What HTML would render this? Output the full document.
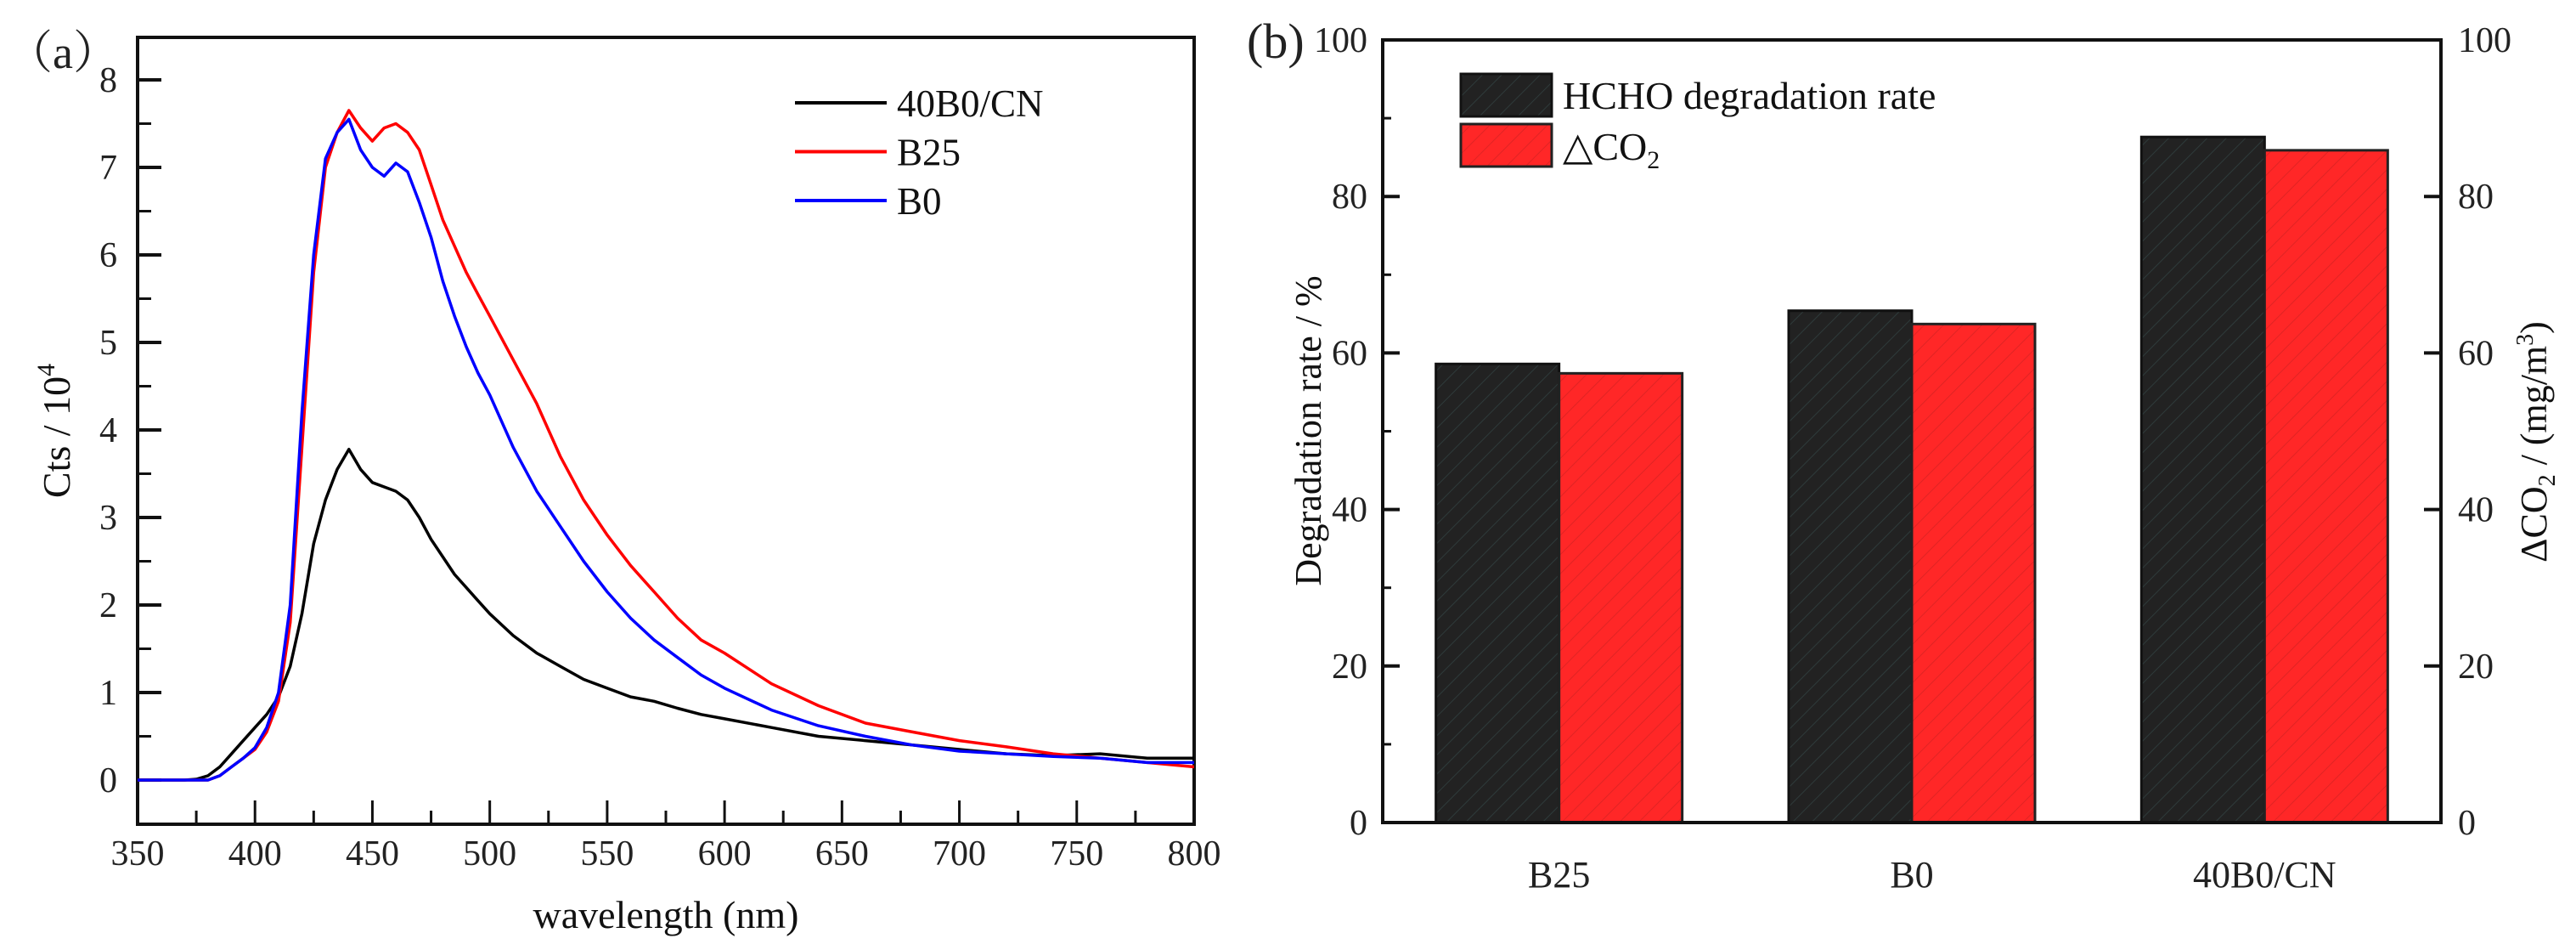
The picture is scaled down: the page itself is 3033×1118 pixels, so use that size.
<!DOCTYPE html>
<html><head><meta charset="utf-8"><style>
html,body{margin:0;padding:0;background:#fff;}
svg{display:block;font-family:"Liberation Serif","DejaVu Serif",serif;}
</style></head><body>
<svg id="fig" width="3033" height="1118" viewBox="0 0 3033 1118" xmlns="http://www.w3.org/2000/svg">
<defs>
<pattern id="hatchK" patternUnits="userSpaceOnUse" width="16" height="16" patternTransform="rotate(45)"><rect width="16" height="16" fill="#222"/><line x1="0" y1="0" x2="0" y2="16" stroke="#2e3a3a" stroke-width="2"/></pattern>
<pattern id="hatchR" patternUnits="userSpaceOnUse" width="16" height="16" patternTransform="rotate(45)"><rect width="16" height="16" fill="#ff2727"/><line x1="0" y1="0" x2="0" y2="16" stroke="#e02424" stroke-width="2"/></pattern>
</defs>
<g id="panelA"></g>
<g id="panelB"></g>
</svg>
<script>
// ---------- Panel (a) data ----------
const wl = [350,355,360,365,370,375,380,385,390,395,400,405,410,415,420,425,430,435,440,445,450,455,460,465,470,475,480,485,490,495,500,510,520,530,540,550,560,570,580,590,600,620,640,660,680,700,720,740,760,780,800];
const cnVals = [0,0,0,0,0,0.01,0.05,0.15,0.3,0.45,0.6,0.75,0.95,1.3,1.9,2.7,3.2,3.55,3.78,3.55,3.4,3.35,3.3,3.2,3.0,2.75,2.55,2.35,2.2,2.05,1.9,1.65,1.45,1.3,1.15,1.05,0.95,0.9,0.82,0.75,0.7,0.6,0.5,0.45,0.4,0.35,0.3,0.28,0.3,0.25,0.25];
const b25Vals = [0,0,0,0,0,0,0,0.05,0.15,0.25,0.35,0.55,0.9,1.8,3.8,5.8,7.0,7.4,7.65,7.45,7.3,7.45,7.5,7.4,7.2,6.8,6.4,6.1,5.8,5.55,5.3,4.8,4.3,3.7,3.2,2.8,2.45,2.15,1.85,1.6,1.45,1.1,0.85,0.65,0.55,0.45,0.38,0.3,0.25,0.2,0.15];
const b0Vals = [0,0,0,0,0,0,0,0.05,0.15,0.25,0.37,0.6,1.0,2.0,4.2,6.0,7.1,7.4,7.55,7.2,7.0,6.9,7.05,6.95,6.6,6.2,5.7,5.3,4.95,4.65,4.4,3.8,3.3,2.9,2.5,2.15,1.85,1.6,1.4,1.2,1.05,0.8,0.62,0.5,0.4,0.33,0.3,0.27,0.25,0.2,0.2];
const xTicksA = [350,400,450,500,550,600,650,700,750,800];
const yTicksA = [0,1,2,3,4,5,6,7,8];
const seriesNames = ["40B0/CN","B25","B0"];
const seriesColors = ["#000","#ff0000","#0000ff"];

// ---------- Panel (b) data ----------
const categories = ["B25","B0","40B0/CN"];
const hchoVals = [58.6,65.4,87.6];
const co2Vals = [57.4,63.7,85.9];
const yTicksB = [0,20,40,60,80,100];

const NS="http://www.w3.org/2000/svg";
function mk(parent,tag,attrs,text){const e=document.createElementNS(NS,tag);for(const k in attrs)e.setAttribute(k,attrs[k]);if(text!==undefined)e.textContent=text;parent.appendChild(e);return e;}

// ===== Panel A =====
const A=document.getElementById('panelA');
const aL=162,aR=1406,aT=44,aB=970;
const ax=v=>aL+(v-350)/(800-350)*(aR-aL);
const ay=v=>918-v*103;
let e;
e=mk(A,'rect',{x:aL,y:aT,width:aR-aL,height:aB-aT,fill:'none',stroke:'#111','stroke-width':4});


for(let v=375;v<800;v+=50){e=mk(A,'line',{x1:ax(v),x2:ax(v),y1:aB,y2:aB-16,stroke:'#111','stroke-width':3});

}
xTicksA.forEach(v=>{
 e=mk(A,'line',{x1:ax(v),x2:ax(v),y1:aB,y2:aB-28,stroke:'#111','stroke-width':3});
 
 
 e=mk(A,'text',{x:ax(v),y:1018,'font-size':42,'text-anchor':'middle',fill:'#222'},String(v));
 
 
});
yTicksA.forEach(v=>{
 e=mk(A,'line',{x1:aL,x2:aL+28,y1:ay(v),y2:ay(v),stroke:'#111','stroke-width':4});
 
 
 e=mk(A,'text',{x:aL-24,y:ay(v)+14,'font-size':42,'text-anchor':'end',fill:'#222'},String(v));
 
 
 if(v<8){e=mk(A,'line',{x1:aL,x2:aL+16,y1:ay(v+0.5),y2:ay(v+0.5),stroke:'#111','stroke-width':3});
 
 }
});
[cnVals,b25Vals,b0Vals].forEach((vals,i)=>{
 const d=vals.map((v,j)=>(j?'L':'M')+ax(wl[j]).toFixed(1)+','+ay(v).toFixed(1)).join(' ');
 e=mk(A,'path',{d:d,fill:'none',stroke:seriesColors[i],'stroke-width':3.5,'stroke-linejoin':'round'});
 
 
});
// order: draw so blue on top like reference
seriesNames.forEach((n,i)=>{
 const y=121+i*57.5;
 e=mk(A,'line',{x1:936,x2:1044,y1:y,y2:y,stroke:seriesColors[i],'stroke-width':4});
 
 
 e=mk(A,'text',{x:1056,y:y+16,'font-size':45,fill:'#111'},n);
 
 
});
e=mk(A,'text',{x:784,y:1092,'font-size':46,'text-anchor':'middle',fill:'#111'},'wavelength (nm)');


e=mk(A,'text',{transform:'translate(82,507) rotate(-90)','font-size':46,'text-anchor':'middle',fill:'#111'});


e.innerHTML='Cts / 10<tspan dy="-18" font-size="30">4</tspan>';
e=mk(A,'text',{x:8,y:80,'font-size':54,fill:'#222',style:'font-family:"Liberation Serif","Noto Serif CJK SC",serif'},'（a）');



// ===== Panel B =====
const B=document.getElementById('panelB');
const bL=1628,bR=2874,bT=47,bB=968;
const by=v=>bB-v*(bB-bT)/100;
const bw=145;
const cx=i=>bL+(i+0.5)*(bR-bL)/categories.length;
categories.forEach((c,i)=>{
 e=mk(B,'rect',{x:cx(i)-bw,y:by(hchoVals[i]),width:bw,height:bB-by(hchoVals[i]),fill:'url(#hatchK)',stroke:'#111','stroke-width':3});
 
 
 e=mk(B,'rect',{x:cx(i),y:by(co2Vals[i]),width:bw,height:bB-by(co2Vals[i]),fill:'url(#hatchR)',stroke:'#222','stroke-width':3});
 
 
 e=mk(B,'text',{x:cx(i),y:1044,'font-size':44,'text-anchor':'middle',fill:'#222'},c);
 
 
});
e=mk(B,'rect',{x:bL,y:bT,width:bR-bL,height:bB-bT,fill:'none',stroke:'#111','stroke-width':4});


yTicksB.forEach(v=>{
 e=mk(B,'line',{x1:bL,x2:bL+20,y1:by(v),y2:by(v),stroke:'#111','stroke-width':4});
 
 
 e=mk(B,'line',{x1:bR,x2:bR-20,y1:by(v),y2:by(v),stroke:'#111','stroke-width':4});
 
 
 e=mk(B,'text',{x:bL-18,y:by(v)+14,'font-size':42,'text-anchor':'end',fill:'#222'},String(v));
 
 
 e=mk(B,'text',{x:bR+20,y:by(v)+14,'font-size':42,'text-anchor':'start',fill:'#222'},String(v));
 
 
 if(v<100){e=mk(B,'line',{x1:bL,x2:bL+10,y1:by(v+10),y2:by(v+10),stroke:'#111','stroke-width':3});
 
 }
});
e=mk(B,'rect',{x:1720,y:87,width:107,height:50,fill:'url(#hatchK)',stroke:'#111','stroke-width':3});


e=mk(B,'rect',{x:1720,y:146,width:107,height:50,fill:'url(#hatchR)',stroke:'#222','stroke-width':3});


e=mk(B,'text',{x:1840,y:128,'font-size':46,fill:'#111'},'HCHO degradation rate');


e=mk(B,'text',{x:1840,y:188,'font-size':46,fill:'#111'});


e.innerHTML='△CO<tspan dy="10" font-size="30">2</tspan>';
e=mk(B,'text',{transform:'translate(1555,507) rotate(-90)','font-size':44,'text-anchor':'middle',fill:'#111'},'Degradation rate / %');


e=mk(B,'text',{transform:'translate(2998,520) rotate(-90)','font-size':44,'text-anchor':'middle',fill:'#111'});


e.innerHTML='ΔCO<tspan dy="10" font-size="28">2</tspan><tspan dy="-10"> / (mg/m</tspan><tspan dy="-16" font-size="28">3</tspan><tspan dy="16">)</tspan>';
e=mk(B,'text',{x:1468,y:68,'font-size':58,fill:'#222'},'(b)');


</script>
</body></html>
